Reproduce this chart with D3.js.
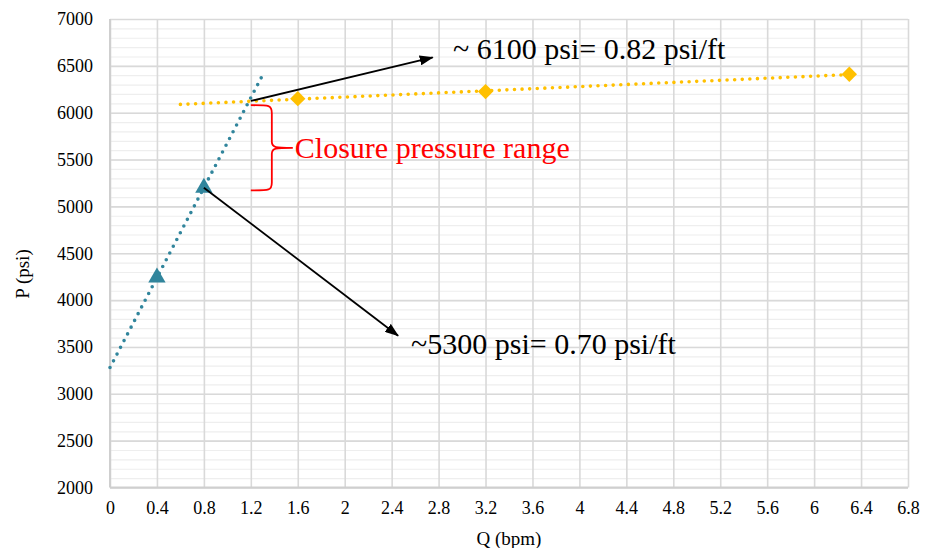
<!DOCTYPE html>
<html>
<head>
<meta charset="utf-8">
<script src="https://cdn.jsdelivr.net/npm/d3@7/dist/d3.min.js"></script>
<style>
  html, body { margin: 0; padding: 0; background: #fff; }
  svg { display: block; }
</style>
</head>
<body>
<svg id="chart" width="932" height="548"></svg>
<script>
// Step-rate test: injection rate Q (bpm) vs pressure P (psi)
const belowRateQ = [0.4, 0.8];
const belowRateP = [4240, 5200];
const aboveRateQ = [1.6, 3.2, 6.3];
const aboveRateP = [6150, 6225, 6410];

// trendline extents (Q, bpm)
const belowTrendRange = [0, 1.3];
const aboveTrendRange = [0.6, 6.3];

const xTicks = [0, 0.4, 0.8, 1.2, 1.6, 2, 2.4, 2.8, 3.2, 3.6, 4, 4.4, 4.8, 5.2, 5.6, 6, 6.4, 6.8];
const yTicks = [2000, 2500, 3000, 3500, 4000, 4500, 5000, 5500, 6000, 6500, 7000];
const yMinorTicks = d3.range(2000, 7001, 100);

const xTitle = "Q (bpm)";
const yTitle = "P (psi)";

// annotation texts and anchors in data units
const upperNote = "~ 6100 psi= 0.82 psi/ft";
const lowerNote = "~5300 psi= 0.70 psi/ft";
const rangeNote = "Closure pressure range";
const upperArrow = { from: [1.2, 6125], to: [2.75, 6590] };
const lowerArrow = { from: [0.8, 5200], to: [2.455, 3620] };
const braceSpan = [6080, 5170];   // pressure at top and bottom of the brace

const teal = "#31859C";
const gold = "#FFC000";
const serif = "'Liberation Serif', 'Times New Roman', serif";

const svg = d3.select("#chart");
const plotL = 110, plotR = 908, plotT = 19, plotB = 487.5;

const x = d3.scaleLinear().domain([0, 6.8]).range([plotL, plotR]);
const y = d3.scaleLinear().domain([2000, 7000]).range([plotB, plotT]);

// minor horizontal gridlines
svg.append("g")
  .attr("transform", `translate(${plotL},0)`)
  .call(d3.axisLeft(y).tickValues(yMinorTicks).tickSize(-(plotR - plotL)).tickFormat(""))
  .call(g => g.select(".domain").remove())
  .call(g => g.selectAll("line").attr("stroke", "#eeeeee").attr("stroke-width", 1.2));

// major gridlines
svg.append("g")
  .attr("transform", `translate(${plotL},0)`)
  .call(d3.axisLeft(y).tickValues(yTicks).tickSize(-(plotR - plotL)).tickFormat(""))
  .call(g => g.select(".domain").remove())
  .call(g => g.selectAll("line").attr("stroke", "#d9d9d9").attr("stroke-width", 1.6));

svg.append("g")
  .attr("transform", `translate(0,${plotB})`)
  .call(d3.axisBottom(x).tickValues(xTicks).tickSize(-(plotB - plotT)).tickFormat(""))
  .call(g => g.select(".domain").remove())
  .call(g => g.selectAll("line").attr("stroke", "#d9d9d9").attr("stroke-width", 1.6));

// axis lines
svg.append("line").attr("x1", plotL).attr("x2", plotL).attr("y1", plotT).attr("y2", plotB)
  .attr("stroke", "#cfcfcf").attr("stroke-width", 2);
svg.append("line").attr("x1", plotL).attr("x2", plotR).attr("y1", plotB).attr("y2", plotB)
  .attr("stroke", "#cfcfcf").attr("stroke-width", 2);

// tick labels
svg.append("g")
  .attr("transform", `translate(${plotL - 14},0)`)
  .call(d3.axisLeft(y).tickValues(yTicks).tickSize(0).tickFormat(d3.format("d")))
  .call(g => g.select(".domain").remove())
  .call(g => g.selectAll("text").attr("font-size", 18).attr("font-family", serif).attr("fill", "#000"));

svg.append("g")
  .attr("transform", `translate(0,${plotB + 11})`)
  .call(d3.axisBottom(x).tickValues(xTicks).tickSize(0).tickFormat(d => String(d)))
  .call(g => g.select(".domain").remove())
  .call(g => g.selectAll("text").attr("font-size", 18).attr("font-family", serif).attr("fill", "#000"));

// axis titles
svg.append("text").attr("x", (plotL + plotR) / 2).attr("y", 545)
  .attr("text-anchor", "middle").attr("font-size", 19).attr("font-family", serif).text(xTitle);
svg.append("text").attr("transform", "translate(29,274) rotate(-90)")
  .attr("text-anchor", "middle").attr("font-size", 19).attr("font-family", serif).text(yTitle);

// least-squares line through a set of points
function fit(qs, ps) {
  const mq = d3.mean(qs), mp = d3.mean(ps);
  const b = d3.sum(qs, (q, i) => (q - mq) * (ps[i] - mp)) / d3.sum(qs, q => (q - mq) ** 2);
  return q => mp + b * (q - mq);
}

function trend(qs, ps, range, color) {
  const f = fit(qs, ps);
  svg.append("line")
    .attr("x1", x(range[0])).attr("y1", y(f(range[0])))
    .attr("x2", x(range[1])).attr("y2", y(f(range[1])))
    .attr("stroke", color).attr("stroke-width", 3.6)
    .attr("stroke-linecap", "round").attr("stroke-dasharray", "0 7.6");
}

trend(belowRateQ, belowRateP, belowTrendRange, teal);
trend(aboveRateQ, aboveRateP, aboveTrendRange, gold);

// markers
svg.append("g").selectAll("path")
  .data(belowRateQ.map((q, i) => [q, belowRateP[i]]))
  .join("path")
  .attr("transform", d => `translate(${x(d[0])},${y(d[1])})`)
  .attr("d", d3.symbol(d3.symbolTriangle, 130))
  .attr("fill", teal);

svg.append("g").selectAll("path")
  .data(aboveRateQ.map((q, i) => [q, aboveRateP[i]]))
  .join("path")
  .attr("transform", d => `translate(${x(d[0])},${y(d[1])})`)
  .attr("d", d3.symbol(d3.symbolDiamond2, 150))
  .attr("fill", gold);

// arrows
const defs = svg.append("defs");
defs.append("marker")
  .attr("id", "head").attr("markerUnits", "userSpaceOnUse")
  .attr("viewBox", "0 0 14 10").attr("refX", 13).attr("refY", 5)
  .attr("markerWidth", 14).attr("markerHeight", 10).attr("orient", "auto")
  .append("path").attr("d", "M0,0L14,5L0,10Z").attr("fill", "#000");

[upperArrow, lowerArrow].forEach(a => {
  svg.append("line")
    .attr("x1", x(a.from[0])).attr("y1", y(a.from[1]))
    .attr("x2", x(a.to[0])).attr("y2", y(a.to[1]))
    .attr("stroke", "#000").attr("stroke-width", 1.8)
    .attr("marker-end", "url(#head)");
});

svg.append("text").attr("x", 453).attr("y", 59)
  .attr("font-size", 30).attr("font-family", serif).attr("fill", "#000").text(upperNote);
svg.append("text").attr("x", 411).attr("y", 354)
  .attr("font-size", 30).attr("font-family", serif).attr("fill", "#000").text(lowerNote);

// brace marking the closure pressure range
const bx0 = x(1.2), bx1 = bx0 + 21, tip = bx0 + 42;
const yt = y(braceSpan[0]), yb = y(braceSpan[1]), ym = (yt + yb) / 2;
svg.append("path")
  .attr("d", `M${bx0},${yt} C${bx1 - 2},${yt} ${bx1},${yt} ${bx1},${yt + 8}
              L${bx1},${ym - 6} C${bx1},${ym} ${bx1 + 4},${ym} ${tip},${ym}
              C${bx1 + 4},${ym} ${bx1},${ym} ${bx1},${ym + 6}
              L${bx1},${yb - 8} C${bx1},${yb} ${bx1 - 2},${yb} ${bx0},${yb}`)
  .attr("fill", "none").attr("stroke", "#ff0000").attr("stroke-width", 1.8);

svg.append("text").attr("x", tip + 2).attr("y", ym + 10)
  .attr("font-size", 30).attr("font-family", serif).attr("fill", "#ff0000").text(rangeNote);
</script>
</body>
</html>
